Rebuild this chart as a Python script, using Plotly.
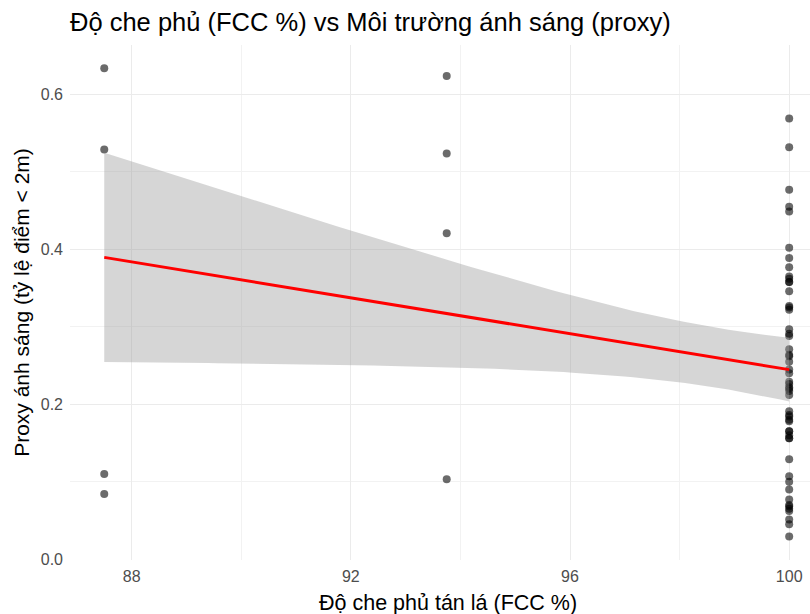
import math
import numpy as np
import plotly.graph_objects as go

# ---- data ----
fcc_a = 87.5
proxy_a = [0.634, 0.529, 0.110, 0.084]
fcc_b = 93.75
proxy_b = [0.624, 0.524, 0.421, 0.103]
fcc_c = 100.0
proxy_c = [0.569, 0.532, 0.477, 0.455, 0.449, 0.402, 0.389, 0.377, 0.365, 0.362,
           0.358, 0.358, 0.346, 0.327, 0.325, 0.322, 0.297, 0.291, 0.288, 0.271,
           0.264, 0.262, 0.255, 0.245, 0.240, 0.229, 0.226, 0.222, 0.220, 0.217,
           0.212, 0.191, 0.186, 0.184, 0.180, 0.178, 0.165, 0.165, 0.160, 0.156,
           0.156, 0.129, 0.107, 0.100, 0.090, 0.077, 0.070, 0.068, 0.065, 0.062,
           0.051, 0.045, 0.029]

x_ticks = [88, 92, 96, 100]
y_ticks = [0.0, 0.2, 0.4, 0.6]

title_text = "Độ che phủ (FCC %) vs Môi trường ánh sáng (proxy)"
x_title = "Độ che phủ tán lá (FCC %)"
y_title = "Proxy ánh sáng (tỷ lệ điểm < 2m)"

# ---- assemble ----
x = np.array([fcc_a] * len(proxy_a) + [fcc_b] * len(proxy_b) + [fcc_c] * len(proxy_c))
y = np.array(proxy_a + proxy_b + proxy_c)

# linear model with 95% confidence band (like geom_smooth(method = "lm"))
n = len(x)
xm, ym = x.mean(), y.mean()
sxx = ((x - xm) ** 2).sum()
slope = ((x - xm) * (y - ym)).sum() / sxx
intercept = ym - slope * xm
resid = y - (intercept + slope * x)
s = math.sqrt((resid ** 2).sum() / (n - 2))
nu = n - 2
z = 1.959963985
tq = z + (z**3 + z) / (4 * nu) + (5 * z**5 + 16 * z**3 + 3 * z) / (96 * nu**2)

gx = np.linspace(x.min(), x.max(), 80)
gy = intercept + slope * gx
se = s * np.sqrt(1.0 / n + (gx - xm) ** 2 / sxx)
lo = gy - tq * se
hi = gy + tq * se

fig = go.Figure()
fig.add_trace(go.Scatter(
    x=x, y=y, mode="markers",
    marker=dict(color="rgba(0,0,0,0.58)", size=8, line=dict(width=0)),
    showlegend=False, hoverinfo="x+y"))
fig.add_trace(go.Scatter(
    x=np.concatenate([gx, gx[::-1]]), y=np.concatenate([hi, lo[::-1]]),
    fill="toself", fillcolor="rgba(153,153,153,0.4)", line=dict(width=0),
    mode="lines", showlegend=False, hoverinfo="skip"))
fig.add_trace(go.Scatter(
    x=gx, y=gy, mode="lines", line=dict(color="red", width=3),
    showlegend=False))

font = "Liberation Sans, Arial, sans-serif"
fig.update_layout(
    width=810, height=614,
    margin=dict(l=70, r=0, t=45, b=54),
    plot_bgcolor="white", paper_bgcolor="white",
    font=dict(family=font, color="black"),
    title=dict(text=title_text, x=70 / 810, xanchor="left", xref="container",
               y=1 - 22 / 614, yanchor="middle", yref="container",
               font=dict(size=25.5, color="black", family=font)),
    xaxis=dict(
        range=[86.875, 100.38], tickvals=x_ticks, ticktext=[str(v) for v in x_ticks],
        showgrid=True, gridcolor="#EBEBEB", gridwidth=1.2, zeroline=False,
        showline=False, ticks="", tickfont=dict(size=16, color="#4D4D4D"),
        ticklabelstandoff=5,
        minor=dict(tickvals=[90, 94, 98], showgrid=True, gridcolor="#F2F2F2", gridwidth=0.8),
        automargin=False),
    yaxis=dict(
        range=[-0.0012, 0.664], tickvals=y_ticks, ticktext=[f"{v:.1f}" for v in y_ticks],
        showgrid=True, gridcolor="#EBEBEB", gridwidth=1.2, zeroline=False,
        showline=False, ticks="", tickfont=dict(size=16, color="#4D4D4D"),
        ticklabelstandoff=6,
        minor=dict(tickvals=[0.1, 0.3, 0.5], showgrid=True, gridcolor="#F2F2F2", gridwidth=0.8),
        title=dict(text=y_title, font=dict(size=21, color="black"), standoff=5),
        automargin=False),
    annotations=[dict(
        text=x_title, xref="paper", yref="paper",
        x=(448 - 70) / 740, y=-(603 - 560) / 515,
        xanchor="center", yanchor="middle", showarrow=False,
        font=dict(size=21.5, color="black", family=font))],
)

fig.write_html("out.html")
